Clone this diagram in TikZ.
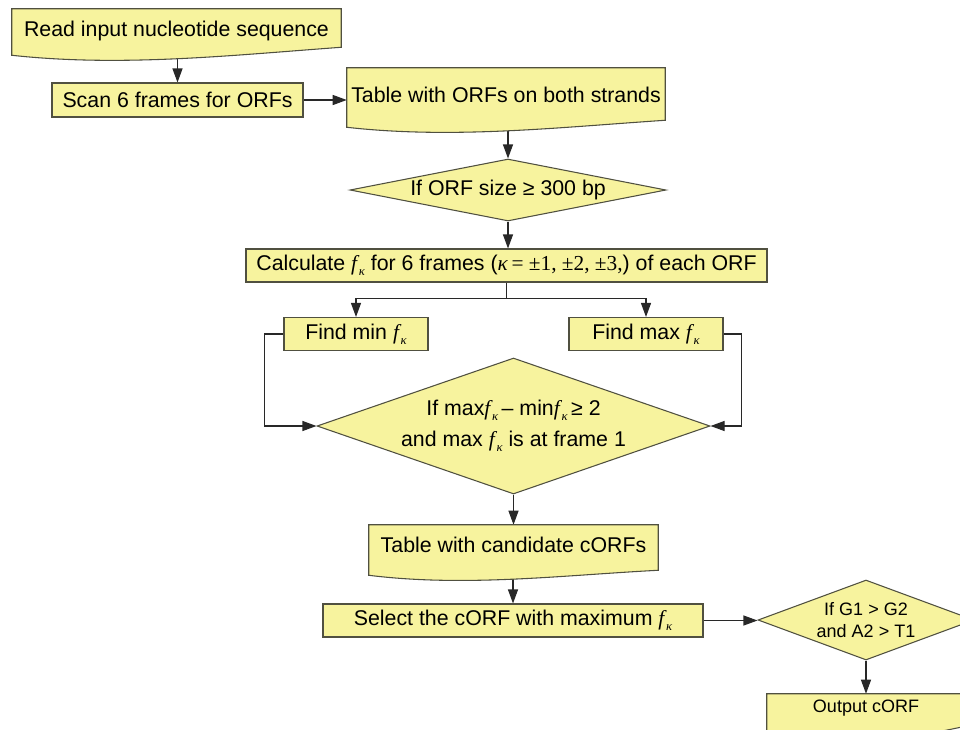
\documentclass[tikz,border=0pt]{standalone}
\usepackage{fontspec}
\setmainfont{Liberation Sans}
\newfontfamily\tms{Liberation Serif}
\usetikzlibrary{shapes.geometric,arrows.meta,calc}
\pgfdeclarelayer{lines}
\pgfdeclarelayer{shapes}
\pgfsetlayers{lines,shapes,main}
\definecolor{boxfill}{RGB}{247,243,158}
\definecolor{boxline}{RGB}{80,80,64}
\definecolor{connc}{RGB}{40,40,40}
\newcommand\fk{{\tms\itshape f}\kern0.08em\raisebox{-0.45ex}{\tms\itshape\fontsize{9.5}{9.5}\selectfont κ}}
\tikzset{
  base/.style={font=\fontsize{16}{19}\selectfont, inner sep=0pt, align=center, text=black},
  rectbox/.style={base, draw=boxline, fill=boxfill, line width=0.8pt},
  docnode/.style={base},
  docfill/.style={draw=boxline, fill=boxfill, line width=0.8pt},
  decision/.style={base, diamond, draw=boxline, fill=boxfill, line width=0.8pt},
  conn/.style={draw=connc, line width=0.8pt, -{Triangle[length=10.5pt,width=7.5pt]}},
}
\newcommand\docshape[3]{%
  \path[docfill] (#1.north west) -- (#1.north east) -- ($(#1.south east)+(0,#2-#3)$)
    .. controls ($(#1.south west)!0.667!(#1.south east)+(0,#2)$)
    and ($(#1.south west)!0.333!(#1.south east)+(0,#2+12)$)
    .. ($(#1.south west)+(0,#2)$) -- cycle;
}
\begin{document}
\begin{tikzpicture}[x=0.75pt,y=-0.75pt]
\useasboundingbox (0,0) rectangle (960,729);

\node[docnode, minimum width=246.75pt, minimum height=33pt] (read) at (176.5,31) {Read input nucleotide sequence};
\node[rectbox, minimum width=188.25pt, minimum height=25.5pt] (scan) at (177.5,100) {Scan 6 frames for ORFs};
\node[docnode, minimum width=238.5pt, minimum height=40.5pt] (table1) at (506,95) {Table with ORFs on both strands};
\node[decision, minimum width=237pt, minimum height=46.5pt, shape aspect=5.1] (cond1) at (508,190) {If ORF size ≥ 300 bp};
\node[rectbox, minimum width=390.75pt, minimum height=24.75pt] (calc) at (506.5,265.5)
  {Calculate \fk\ for 6 frames ({\tms\itshape κ}\,{\tms = ±1, ±2, ±3,}) of each ORF};
\node[rectbox, minimum width=108pt, minimum height=24.75pt] (fmin) at (356,334) {Find min \fk};
\node[rectbox, minimum width=115.5pt, minimum height=24.75pt] (fmax) at (646,334) {Find max \fk};
\node[decision, minimum width=294.75pt, minimum height=102pt, shape aspect=2.89, font=\fontsize{16}{23}\selectfont] (cond2) at (513.5,426)
  {If max\fk\,– min\fk\,≥ 2\\and max \fk\ is at frame 1};
\node[docnode, minimum width=216.75pt, minimum height=30pt] (table2) at (513.5,545) {Table with candidate cORFs};
\node[rectbox, minimum width=285pt, minimum height=24.75pt] (select) at (513,620.5) {Select the cORF with maximum \fk};
\node[decision, minimum width=162pt, minimum height=60pt, shape aspect=2.7, font=\fontsize{13.5}{16.5}\selectfont] (cond3) at (866,620) {If G1 > G2\\and A2 > T1};
\node[docnode, minimum width=148.5pt, minimum height=21pt, font=\fontsize{13.5}{16}\selectfont] (output) at (866,708) {Output cORF};

\begin{pgfonlayer}{shapes}
  \docshape{read}{2}{8}
  \docshape{table1}{5}{7}
  \docshape{table2}{10}{5}
  \docshape{output}{18}{14}
\end{pgfonlayer}

\begin{pgfonlayer}{lines}
  \draw[conn] (scan.north |- read.south) -- (scan.north);
  \draw[conn] (scan.east) -- (scan.east -| table1.west);
  \draw[conn] (cond1.north |- table1.south) -- (cond1.north);
  \draw[conn] (cond1.south) -- (cond1.south |- calc.north);
  \draw[conn] (calc.south) -- ++(0,16) -| (fmin.north);
  \draw[conn] (calc.south) -- ++(0,16) -| (fmax.north);
  \draw[conn] (fmin.west) -- ++(-19,0) |- (cond2.west);
  \draw[conn] (fmax.east) -- ++(18,0) |- (cond2.east);
  \draw[conn] (cond2.south) -- (table2.north);
  \draw[conn] (select.north |- table2.south) -- (select.north);
  \draw[conn] (select.east) -- (select.east -| cond3.west);
  \draw[conn] (cond3.south) -- (output.north);
\end{pgfonlayer}
\end{tikzpicture}
\end{document}
